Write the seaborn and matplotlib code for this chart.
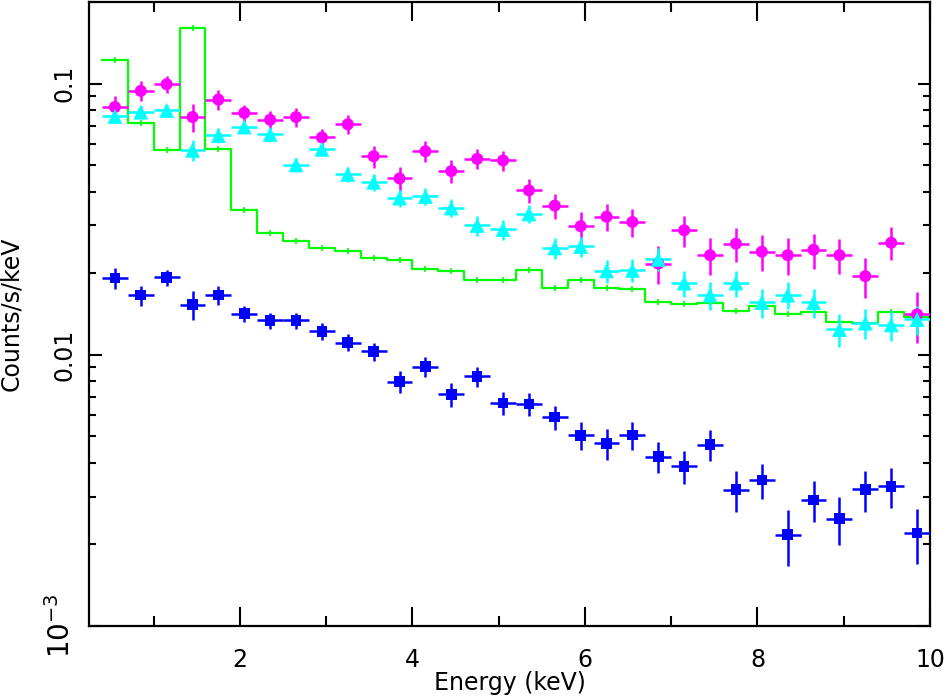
#!/usr/bin/env python3

import numpy as np
import pandas as pd
import seaborn as sns
import matplotlib
matplotlib.use('Agg')
import matplotlib.pyplot as plt
from matplotlib.ticker import MultipleLocator, LogLocator, FixedFormatter, FixedLocator, NullFormatter

### DATA ###
energy = [0.55, 0.85, 1.15, 1.45, 1.75, 2.05, 2.35, 2.65, 2.95, 3.25, 3.55,
          3.85, 4.15, 4.45, 4.75, 5.05, 5.35, 5.65, 5.95, 6.25, 6.55, 6.85,
          7.15, 7.45, 7.75, 8.05, 8.35, 8.65, 8.95, 9.25, 9.55, 9.85]
half_width = 0.15

magenta = [0.082, 0.094, 0.0995, 0.0753, 0.0873, 0.078, 0.0736, 0.0753, 0.0633, 0.0708, 0.054,
           0.0447, 0.0563, 0.0476, 0.0528, 0.0521, 0.0404, 0.0355, 0.0298, 0.0323, 0.0309, 0.0217,
           0.0288, 0.0233, 0.0257, 0.0240, 0.0233, 0.0244, 0.0233, 0.0195, 0.0259, 0.0141]
magenta_err = [0.008, 0.008, 0.0075, 0.009, 0.0075, 0.0055, 0.0057, 0.006, 0.005, 0.0057, 0.005,
               0.0044, 0.005, 0.0045, 0.0045, 0.0045, 0.0041, 0.0038, 0.0037, 0.0037, 0.0037, 0.0035,
               0.0038, 0.0036, 0.0037, 0.0036, 0.0036, 0.0036, 0.0035, 0.0033, 0.0036, 0.003]

cyan = [0.0757, 0.0785, 0.0797, 0.0568, 0.0644, 0.0692, 0.0650, 0.0502, 0.0573, 0.0463, 0.0433,
        0.0379, 0.0384, 0.0348, 0.0300, 0.0290, 0.0331, 0.0248, 0.0251, 0.0204, 0.0205, 0.0225,
        0.0184, 0.0166, 0.0184, 0.0156, 0.0166, 0.0156, 0.0124, 0.0131, 0.0129, 0.0135]
cyan_err = [0.004, 0.004, 0.004, 0.005, 0.004, 0.0037, 0.0035, 0.003, 0.0033, 0.003, 0.003,
            0.0028, 0.0028, 0.0027, 0.0025, 0.0025, 0.0026, 0.0022, 0.0022, 0.002, 0.002, 0.0022,
            0.002, 0.002, 0.002, 0.0019, 0.0019, 0.0019, 0.0017, 0.0017, 0.0017, 0.0017]

blue = [0.0192, 0.0166, 0.0193, 0.0153, 0.0166, 0.0142, 0.0134, 0.0134, 0.0122, 0.0111, 0.0103,
        0.00797, 0.00905, 0.00714, 0.00832, 0.00665, 0.00659, 0.00589, 0.00505, 0.00471, 0.00507, 0.00421,
        0.00388, 0.00466, 0.00318, 0.00345, 0.00217, 0.00292, 0.00249, 0.00319, 0.00327, 0.00220]
blue_err = [0.0017, 0.0014, 0.0013, 0.0019, 0.0013, 0.001, 0.0009, 0.0009, 0.0009, 0.0008, 0.0008,
            0.00075, 0.0008, 0.0007, 0.0007, 0.00065, 0.00065, 0.0006, 0.0006, 0.0006, 0.0006, 0.00055,
            0.00055, 0.0006, 0.00055, 0.0005, 0.0005, 0.0005, 0.0005, 0.00055, 0.00055, 0.0005]

model = [0.122, 0.0716, 0.0568, 0.160, 0.0573, 0.0343, 0.0281, 0.0262, 0.0247, 0.0241, 0.0228,
         0.0223, 0.0208, 0.0204, 0.0189, 0.0188, 0.0206, 0.0176, 0.0188, 0.0177, 0.0175, 0.0156,
         0.0154, 0.0155, 0.0145, 0.0151, 0.0142, 0.0144, 0.0132, 0.0131, 0.0144, 0.0138]

### PLOT ###
fig = plt.figure(figsize=(9.45, 6.97), dpi=100)
ax = fig.add_axes([89/945, 1-626/697, (930-89)/945, (626-2)/697])

# model as a histogram-like step line
edges = [e - half_width for e in energy] + [energy[-1] + half_width]
step = pd.DataFrame({'edge': edges, 'rate': model + [model[-1]]})
sns.lineplot(data=step, x='edge', y='rate', drawstyle='steps-post', color='#00ff00',
             lw=1.6, estimator=None, ax=ax, zorder=2)
ax.plot(energy, model, '|', color='#00ff00', ms=5, mew=1.2, zorder=2)

series = [('data1', magenta, magenta_err, '#ff00ff', 'o', 75),
          ('data2', cyan, cyan_err, '#00ffff', '^', 115),
          ('data3', blue, blue_err, '#0000ff', 's', 58)]
for name, vals, errs, col, mk, size in series:
    ax.errorbar(energy, vals, xerr=half_width, yerr=errs, fmt='none', ecolor=col,
                elinewidth=1.8, capsize=0, zorder=3)
    df = pd.DataFrame({'energy': energy, 'rate': vals})
    sns.scatterplot(data=df, x='energy', y='rate', color=col, marker=mk, s=size,
                    edgecolor='none', ax=ax, zorder=4)

ax.set_yscale('log')
ax.set_xlim(0.25, 10)
ax.set_ylim(1e-3, 0.2)

ax.xaxis.set_major_locator(MultipleLocator(2))
ax.xaxis.set_minor_locator(MultipleLocator(1))
ax.yaxis.set_major_locator(FixedLocator([1e-3, 1e-2, 1e-1]))
ax.yaxis.set_major_formatter(FixedFormatter(['10$^{\\mathregular{-3}}$', '0.01', '0.1']))
ax.yaxis.set_minor_locator(LogLocator(base=10, subs=np.arange(2, 10), numticks=20))
ax.yaxis.set_minor_formatter(NullFormatter())

ax.tick_params(which='both', direction='in', top=True, right=True, width=1.5, colors='black')
ax.tick_params(axis='x', which='major', length=14, labelsize=17, pad=16)
ax.tick_params(axis='x', which='minor', length=7)
ax.tick_params(axis='y', which='major', length=9, labelsize=17, pad=9)
ax.tick_params(axis='y', which='minor', length=5)
plt.setp(ax.get_yticklabels(), rotation=90, va='center')
ax.yaxis.get_major_ticks()[0].label1.set_fontsize(20)
for sp in ax.spines.values():
    sp.set_linewidth(1.6)

ax.set_xlabel('Energy (keV)', fontsize=17)
ax.set_ylabel('Counts/s/keV', fontsize=17)
ax.xaxis.set_label_coords(0.5, -0.072)
ax.yaxis.set_label_coords(-0.078, 0.5)

plt.savefig('out.png', dpi=100)
